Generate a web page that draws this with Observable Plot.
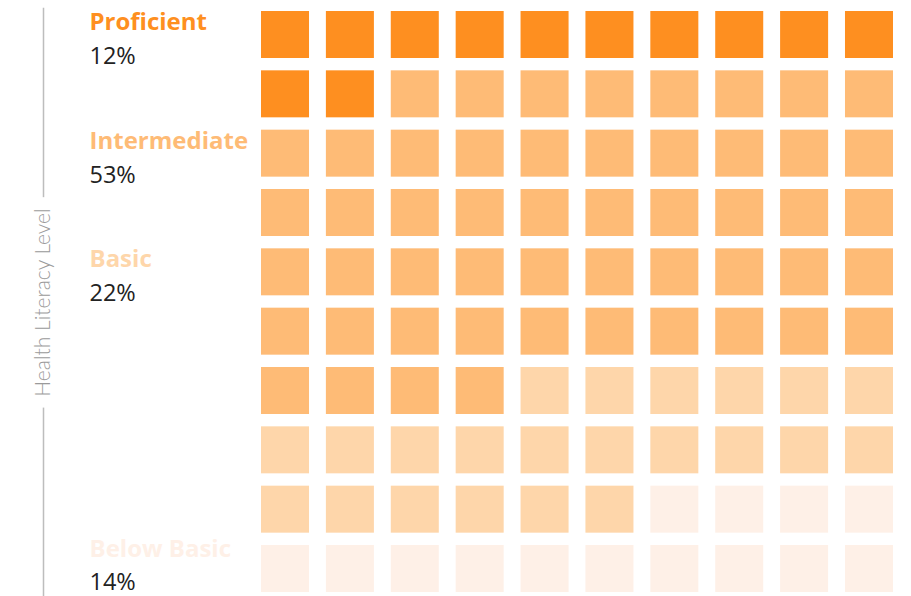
<!DOCTYPE html>
<html>
<head>
<meta charset="utf-8">
<script src="https://cdn.jsdelivr.net/npm/d3@7"></script>
<script src="https://cdn.jsdelivr.net/npm/@observablehq/plot@0.6"></script>
<style>
  html, body { margin: 0; padding: 0; background: #fff; }
  #chart { width: 911px; height: 596px; overflow: hidden; }
</style>
</head>
<body>
<div id="chart"></div>
<script>
// Categories, their reported percentages, and number of waffle cells per category
const categories = ["Proficient", "Intermediate", "Basic", "Below Basic"];
const percents = [12, 53, 22, 14];
const cellCounts = [12, 52, 22, 14];
const colors = ["#fe8f20", "#febb76", "#fed6aa", "#fef0e7"];
const labelRows = [0, 2, 4, 9];
const axisLabel = "Health Literacy Level";

const nCols = 10;
const cells = [];
categories.forEach((c, i) => {
  for (let k = 0; k < cellCounts[i]; k++) cells.push({category: c});
});
cells.forEach((d, i) => { d.col = i % nCols; d.row = Math.floor(i / nCols); });

const labels = categories.map((c, i) => ({
  name: c, pct: percents[i] + "%", row: labelRows[i], color: colors[i], last: i === categories.length - 1
}));

const font = "'Open Sans', Lato, sans-serif";

const chart = Plot.plot({
  width: 911,
  height: 596,
  marginLeft: 43,
  marginRight: 0,
  marginTop: 8,
  marginBottom: 0,
  style: {fontFamily: font, background: "#fff"},
  x: {type: "band", domain: d3.range(nCols), range: [261, 893], paddingInner: 0.26, paddingOuter: 0, round: false, axis: null},
  y: {type: "band", domain: d3.range(10), range: [11, 592], paddingInner: 0.208, paddingOuter: 0, round: false, axis: null},
  color: {domain: categories, range: colors},
  marks: [
    Plot.frame({anchor: "left", stroke: "#bdbdbd", strokeWidth: 1.5}),
    Plot.text([axisLabel], {
      text: d => d, frameAnchor: "left", rotate: -90, fill: "#9a9a9a",
      fontFamily: "Lato, sans-serif", fontSize: 21, fontWeight: 300,
      stroke: "white", strokeWidth: 26, textAnchor: "middle"
    }),
    Plot.cell(cells, {x: "col", y: "row", fill: "category"}),
    Plot.text(labels.filter(d => !d.last), {
      y: "row", text: "name", fill: "color", frameAnchor: "left", dx: 46, dy: -5,
      textAnchor: "start", lineAnchor: "bottom", fontSize: 24, fontWeight: "bold"
    }),
    Plot.text(labels.filter(d => !d.last), {
      y: "row", text: "pct", fill: "#222", frameAnchor: "left", dx: 46, dy: 29,
      textAnchor: "start", lineAnchor: "bottom", fontSize: 23.5
    }),
    Plot.text(labels.filter(d => d.last), {
      y: "row", text: "name", fill: "color", frameAnchor: "left", dx: 46, dy: -12,
      textAnchor: "start", lineAnchor: "bottom", fontSize: 24, fontWeight: "bold"
    }),
    Plot.text(labels.filter(d => d.last), {
      y: "row", text: "pct", fill: "#222", frameAnchor: "left", dx: 46, dy: 21,
      textAnchor: "start", lineAnchor: "bottom", fontSize: 23.5
    })
  ]
});
document.getElementById("chart").appendChild(chart);
</script>
</body>
</html>
